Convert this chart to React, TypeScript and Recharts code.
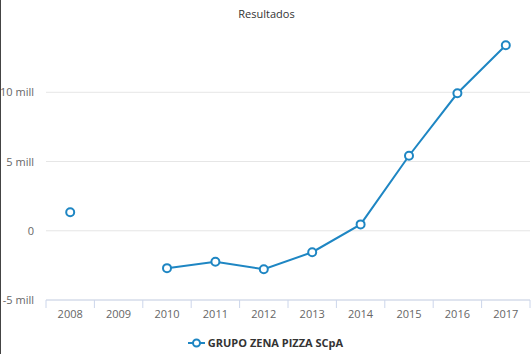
import React from 'react';
import { LineChart, Line, XAxis, YAxis, CartesianGrid, Legend } from 'recharts';

const years = ['2008', '2009', '2010', '2011', '2012', '2013', '2014', '2015', '2016', '2017'];
const resultados: Array<number | null> = [1.34e6, null, -2.7e6, -2.24e6, -2.78e6, -1.55e6, 0.46e6, 5.42e6, 9.93e6, 13.4e6];
const yTicks = [-5e6, 0, 5e6, 10e6];
const seriesName = 'GRUPO ZENA PIZZA SCpA';

const data = years.map((year, i) => ({ year, value: resultados[i] }));

const FONT = '"Open Sans", sans-serif';
const BLUE = '#1e86c3';

const fmt = (v: number) => (v === 0 ? '0' : `${v / 1e6} mill`);

function XTick(props: any) {
  const { x, y, payload, index } = props;
  const half = payload?.offset || 24.15;
  return (
    <g>
      <line x1={x - half} x2={x - half} y1={y - 8} y2={y} stroke="#ccd6eb" />
      {index === years.length - 1 && (
        <line x1={x + half} x2={x + half} y1={y - 8} y2={y} stroke="#ccd6eb" />
      )}
      <text x={x} y={y + 10} textAnchor="middle" fill="#666" fontSize={11} fontFamily={FONT}>
        {payload.value}
      </text>
    </g>
  );
}

function YTick(props: any) {
  const { y, payload } = props;
  return (
    <text x={33} y={y + 4} textAnchor="end" fill="#666" fontSize={11} fontFamily={FONT}>
      {fmt(payload.value)}
    </text>
  );
}

function LegendContent() {
  return (
    <div style={{ display: 'flex', justifyContent: 'center', alignItems: 'center', paddingTop: 13, fontFamily: FONT }}>
      <svg width={17} height={10} style={{ marginRight: 3 }}>
        <line x1={0} x2={17} y1={5} y2={5} stroke={BLUE} strokeWidth={2} />
        <circle cx={8.5} cy={5} r={3.5} fill="#fff" stroke={BLUE} strokeWidth={2} />
      </svg>
      <span style={{ fontSize: 11, fontWeight: 'bold', color: '#333' }}>{seriesName}</span>
    </div>
  );
}

export default function App() {
  return (
    <div style={{ position: 'absolute', left: 0, top: 0, width: 532, height: 354, background: '#fff', borderLeft: '1px solid #444', boxSizing: 'border-box' }}>
      <div style={{ position: 'absolute', top: 6, width: '100%', textAlign: 'center', fontFamily: FONT, fontSize: 11, color: '#333' }}>
        Resultados
      </div>
      <LineChart width={531} height={354} data={data} margin={{ top: 30, right: 2, left: 0, bottom: 2 }}>
        <CartesianGrid vertical={false} stroke="#e6e6e6" horizontalValues={yTicks} />
        <XAxis
          dataKey="year"
          scale="band"
          height={22}
          stroke="#ccd6eb"
          tickLine={false}
          tick={<XTick />}
          interval={0}
        />
        <YAxis
          width={45}
          domain={[-5e6, 14.5e6]}
          ticks={yTicks}
          allowDataOverflow
          axisLine={false}
          tickLine={false}
          tick={<YTick />}
        />
        <Legend verticalAlign="bottom" height={30} content={<LegendContent />} />
        <Line
          type="linear"
          dataKey="value"
          name={seriesName}
          stroke={BLUE}
          strokeWidth={2}
          dot={{ r: 4, fill: '#fff', stroke: BLUE, strokeWidth: 2 }}
          activeDot={false}
          connectNulls={false}
          isAnimationActive={false}
        />
      </LineChart>
    </div>
  );
}
